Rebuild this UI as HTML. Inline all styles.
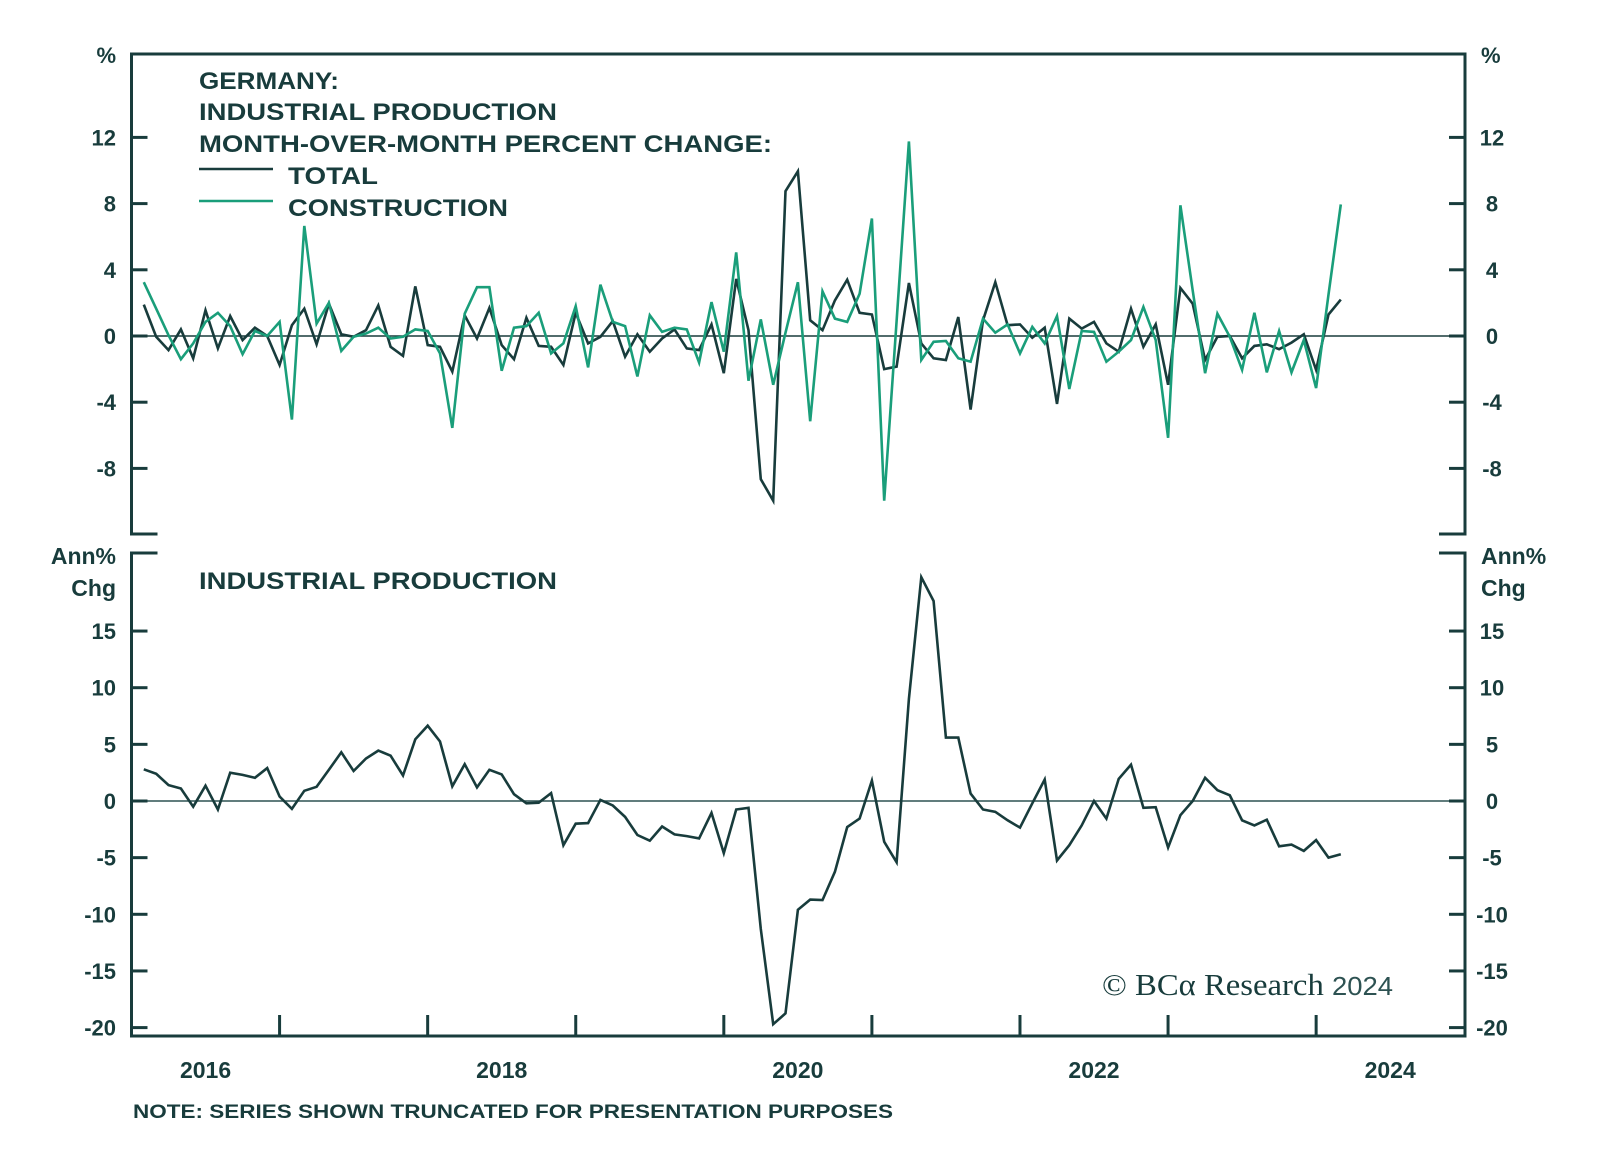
<!DOCTYPE html>
<html><head><meta charset="utf-8"><style>
html,body{margin:0;padding:0;background:#fff;}
svg{display:block;}
text{font-family:"Liberation Sans",sans-serif;font-weight:bold;fill:#183c3c;}
</style></head><body>
<svg id="chart" width="1600" height="1151" viewBox="0 0 1600 1151" xmlns="http://www.w3.org/2000/svg">
<g id="frame"></g>
<g id="axes"></g>
<g id="series"></g>
<text x="199" y="89" font-size="24" textLength="140" lengthAdjust="spacingAndGlyphs">GERMANY:</text>
<text x="199" y="120" font-size="24" textLength="358" lengthAdjust="spacingAndGlyphs">INDUSTRIAL PRODUCTION</text>
<text x="199" y="152" font-size="24" textLength="573" lengthAdjust="spacingAndGlyphs">MONTH-OVER-MONTH PERCENT CHANGE:</text>
<line x1="199" y1="169" x2="273" y2="169" stroke="#183c3c" stroke-width="2.5"/>
<text x="288" y="184" font-size="24" textLength="90" lengthAdjust="spacingAndGlyphs">TOTAL</text>
<line x1="199" y1="201" x2="273" y2="201" stroke="#1a9e7a" stroke-width="2.5"/>
<text x="288" y="216" font-size="24" textLength="220" lengthAdjust="spacingAndGlyphs">CONSTRUCTION</text>
<text x="199" y="589" font-size="24" textLength="358" lengthAdjust="spacingAndGlyphs">INDUSTRIAL PRODUCTION</text>
<text x="1102" y="995" font-size="31" textLength="291" lengthAdjust="spacingAndGlyphs" style="font-family:'Liberation Serif',serif;font-weight:normal;" fill="#183c3c">© BCα Research <tspan font-size="26" style="font-family:'Liberation Sans',sans-serif;" fill="#2d5252">2024</tspan></text>
<text x="133" y="1118" font-size="19" textLength="760" lengthAdjust="spacingAndGlyphs">NOTE: SERIES SHOWN TRUNCATED FOR PRESENTATION PURPOSES</text>
</svg>
<script>
const totalMoM = [1.9,-0.05,-0.85,0.4,-1.35,1.55,-0.75,1.2,-0.25,0.5,0,-1.75,0.65,1.65,-0.5,1.95,0.1,-0.05,0.35,1.85,-0.65,-1.2,3.0,-0.55,-0.65,-2.15,1.25,-0.15,1.7,-0.55,-1.4,1.1,
-0.6,-0.65,-1.75,1.4,-0.45,-0.05,0.9,-1.25,0.1,-0.95,-0.15,0.4,-0.75,-0.85,0.7,-2.25,3.45,0.35,-8.65,-9.95,8.75,9.95,0.95,0.35,2.15,3.4,1.4,1.3,-2.0,-1.85,3.2,-0.45,-1.35,
-1.45,1.15,-4.45,0.95,3.25,0.65,0.7,-0.1,0.5,-4.1,1.05,0.45,0.85,-0.45,-0.95,1.65,-0.65,0.7,-2.95,2.9,1.95,-1.45,-0.05,0,-1.35,-0.6,-0.5,-0.8,-0.4,0.1,-2.05,1.3,2.2];
const constructionMoM = [3.25,1.65,0.05,-1.4,-0.45,0.85,1.4,0.6,-1.1,0.3,0,0.85,-5.05,6.65,0.75,2.0,-0.9,-0.05,0.15,0.5,-0.15,-0.05,0.4,0.3,-1.05,-5.55,1.35,2.95,2.95,-2.1,0.5,0.6,
1.4,-1.05,-0.45,1.8,-1.9,3.1,0.85,0.6,-2.45,1.25,0.25,0.5,0.4,-1.6,2.05,-0.95,5.05,-2.7,1.0,-2.95,0.2,3.25,-5.15,2.7,1.05,0.85,2.55,7.1,-9.95,0.9,11.75,-1.45,-0.35,
-0.3,-1.35,-1.55,1.05,0.2,0.7,-1.05,0.55,-0.45,1.2,-3.2,0.3,0.25,-1.55,-0.95,-0.25,1.75,-0.25,-6.15,7.9,2.75,-2.25,1.35,-0.05,-2.05,1.4,-2.2,0.3,-2.2,-0.25,-3.15,2.5,7.95];
const ipYoY = [2.8,2.4,1.4,1.1,-0.5,1.35,-0.75,2.5,2.3,2.05,2.9,0.4,-0.7,0.9,1.25,2.75,4.3,2.65,3.75,4.45,4.0,2.25,5.45,6.65,5.25,1.3,3.25,1.2,2.75,2.35,0.6,-0.2,-0.15,0.7,-3.9,-2.0,
-1.95,0.1,-0.4,-1.4,-3.0,-3.5,-2.25,-2.95,-3.1,-3.3,-1.05,-4.6,-0.75,-0.6,-11.3,-19.7,-18.75,-9.6,-8.7,-8.75,-6.25,-2.3,-1.55,1.8,-3.6,-5.4,9.0,19.75,17.65,5.6,5.6,0.65,
-0.75,-0.95,-1.7,-2.35,-0.2,1.9,-5.25,-3.9,-2.15,0,-1.55,1.95,3.2,-0.6,-0.55,-4.1,-1.25,0,2.05,0.95,0.5,-1.7,-2.15,-1.65,-4.0,-3.85,-4.4,-3.45,-5.0,-4.7];
const topTicks = [12,8,4,0,-4,-8];
const bottomTicks = [15,10,5,0,-5,-10,-15,-20];
const yearLabels = ["2016","2018","2020","2022","2024"];
const yearLabelOffsets = [0,2,4,6,8];
const yearTickOffsets = [1,2,3,4,5,6,7,8];

const NS="http://www.w3.org/2000/svg";
const X0=131.5, XR=1465, MONTH=12.34, YEAR=MONTH*12;
const TOP_T=54, TOP_B=534, BOT_T=553, BOT_B=1036;
const DARK="#183c3c", GREEN="#1a9e7a";
function xMonth(k){return X0+MONTH*(k+1);}
function yTop(v){return 336-16.55*v;}
function yBot(v){return 801-11.33*v;}
function mk(tag,attrs,parent){const e=document.createElementNS(NS,tag);for(const k in attrs)e.setAttribute(k,attrs[k]);parent.appendChild(e);return e;}
const frame=document.getElementById('frame'), axes=document.getElementById('axes'), series=document.getElementById('series');

let p=mk('path',{d:`M${X0+26},${TOP_B} H${X0} V${TOP_T} H${XR} V${TOP_B} H${XR-26}`,fill:'none',stroke:DARK,'stroke-width':3},frame);


p=mk('path',{d:`M${X0+26},${BOT_T} H${X0} V${BOT_B} H${XR} V${BOT_T} H${XR-26}`,fill:'none',stroke:DARK,'stroke-width':3},frame);


p=mk('line',{x1:X0,x2:XR,y1:yTop(0),y2:yTop(0),stroke:DARK,'stroke-width':1.6},frame);


p=mk('line',{x1:X0,x2:XR,y1:yBot(0),y2:yBot(0),stroke:'#2d5252','stroke-width':1.6},frame);



topTicks.forEach(v=>{const y=yTop(v);
 let t=mk('line',{x1:X0,x2:X0+16,y1:y,y2:y,stroke:DARK,'stroke-width':3},axes);
 
 
 t=mk('line',{x1:XR-16,x2:XR,y1:y,y2:y,stroke:DARK,'stroke-width':3},axes);
 
 
 let l=mk('text',{x:116,y:y+8,'font-size':22,'text-anchor':'end'},axes); l.textContent=v;
 
 
 l=mk('text',{x:1492,y:y+8,'font-size':22,'text-anchor':'middle'},axes); l.textContent=v;
 
 
});
bottomTicks.forEach(v=>{const y=yBot(v);
 let t=mk('line',{x1:X0,x2:X0+16,y1:y,y2:y,stroke:DARK,'stroke-width':3},axes);
 
 
 t=mk('line',{x1:XR-16,x2:XR,y1:y,y2:y,stroke:DARK,'stroke-width':3},axes);
 
 
 let l=mk('text',{x:116,y:y+8,'font-size':22,'text-anchor':'end'},axes); l.textContent=v;
 
 
 l=mk('text',{x:1492,y:y+8,'font-size':22,'text-anchor':'middle'},axes); l.textContent=v;
 
 
});
[[116,'end'],[1481,'start']].forEach(([x,a])=>{
 let l=mk('text',{x:x,y:63,'font-size':22,'text-anchor':a},axes); l.textContent='%';
 
 
 l=mk('text',{x:x,y:564,'font-size':23,'text-anchor':a},axes); l.textContent='Ann%';
 
 
 l=mk('text',{x:x,y:596,'font-size':23,'text-anchor':a},axes); l.textContent='Chg';
 
 
});
yearTickOffsets.forEach(n=>{const x=X0+YEAR*n;
 const t=mk('line',{x1:x,x2:x,y1:BOT_B,y2:BOT_B-21,stroke:DARK,'stroke-width':3},axes);
 
 
});
yearLabels.forEach((s,i)=>{const x=X0+YEAR*(yearLabelOffsets[i]+0.5);
 const l=mk('text',{x:x,y:1078,'font-size':23,'text-anchor':'middle'},axes); l.textContent=s;
 
 
});
function line(arr,yf,color,name){
 const d=arr.map((v,k)=>(k?'L':'M')+xMonth(k).toFixed(1)+','+yf(v).toFixed(1)).join(' ');
 const e=mk('path',{d:d,fill:'none',stroke:color,'stroke-width':2.6,'stroke-linejoin':'miter','stroke-miterlimit':4},series);
 
 
}
line(totalMoM,yTop,DARK,'total-mom-line');
line(constructionMoM,yTop,GREEN,'construction-mom-line');
line(ipYoY,yBot,DARK,'industrial-production-yoy-line');
</script>
</body></html>
